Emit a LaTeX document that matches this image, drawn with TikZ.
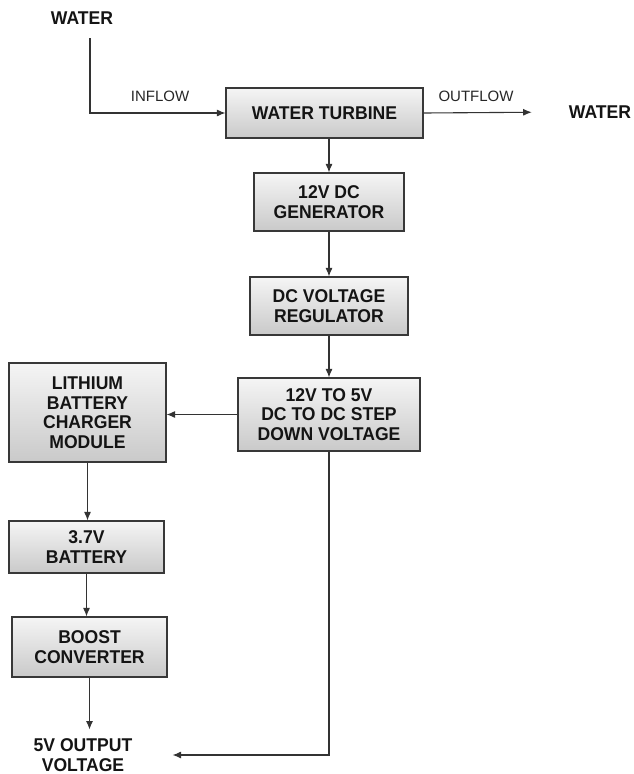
\documentclass[tikz,border=0pt]{standalone}
\usepackage{fontspec}
\setmainfont{Liberation Sans}
\newfontfamily\boxfont[FakeStretch=0.95]{Liberation Sans}
\usetikzlibrary{arrows.meta}
\begin{document}
\begin{tikzpicture}[x=1pt,y=-1pt,
 blk/.style={draw=black!78, line width=1.1pt, top color=gray!8, bottom color=gray!42, align=center, font=\boxfont\fontsize{18.5}{19.5}\selectfont\bfseries, inner sep=0pt, text=black!92},
 lbl/.style={font=\boxfont\fontsize{18.5}{19.5}\selectfont\bfseries, align=center, inner sep=0pt, text=black!92},
 sml/.style={font=\fontsize{15}{17}\selectfont, inner sep=0pt, text=black!85},
 arr/.style={draw=black!80, line width=1.1pt, -{Latex[length=8.5pt,width=7pt]}}]
\useasboundingbox (0,0) rectangle (633,774);
\node[lbl] (win) at (82,18) {WATER};
\node[blk, minimum width=197pt, minimum height=50pt] (turb) at (324.5,113) {WATER TURBINE};
\node[lbl] (wout) at (600,112) {WATER};
\node[sml] (inflow) at (160,96) {INFLOW};
\node[sml] (outflow) at (476,96) {OUTFLOW};
\node[blk, minimum width=150pt, minimum height=58pt] (gen) at (329,202) {12V DC\\GENERATOR};
\node[blk, minimum width=158pt, minimum height=58pt] (reg) at (329,306) {DC VOLTAGE\\REGULATOR};
\node[blk, minimum width=182pt, minimum height=73pt] (step) at (329,414.5) {12V TO 5V\\DC TO DC STEP\\DOWN VOLTAGE};
\node[blk, minimum width=157pt, minimum height=99pt] (lith) at (87.5,412.5) {LITHIUM\\BATTERY\\CHARGER\\MODULE};
\node[blk, minimum width=155pt, minimum height=52pt] (bat) at (86.5,547) {3.7V\\BATTERY};
\node[blk, minimum width=155pt, minimum height=60pt] (boost) at (89.5,647) {BOOST\\CONVERTER};
\node[lbl] (out) at (83,755) {5V OUTPUT\\VOLTAGE};
\coordinate (ws) at (90,38);
\draw[arr] (ws) |- (turb.west);
\draw[arr, shorten >=37pt] (turb.east) -- (wout.west);
\draw[arr] (gen.north |- turb.south) -- (gen.north);
\draw[arr] (gen) -- (reg);
\draw[arr] (reg) -- (step);
\draw[arr] (step.west) -- (lith.east |- step.west);
\draw[arr] (lith.south) -- (lith.south |- bat.north);
\draw[arr] (bat.south) -- (bat.south |- boost.north);
\draw[arr, shorten >=9pt] (boost.south) -- (boost.south |- out.north);
\draw[arr, shorten >=40pt] (step.south) |- (out.east);
\end{tikzpicture}
\end{document}
